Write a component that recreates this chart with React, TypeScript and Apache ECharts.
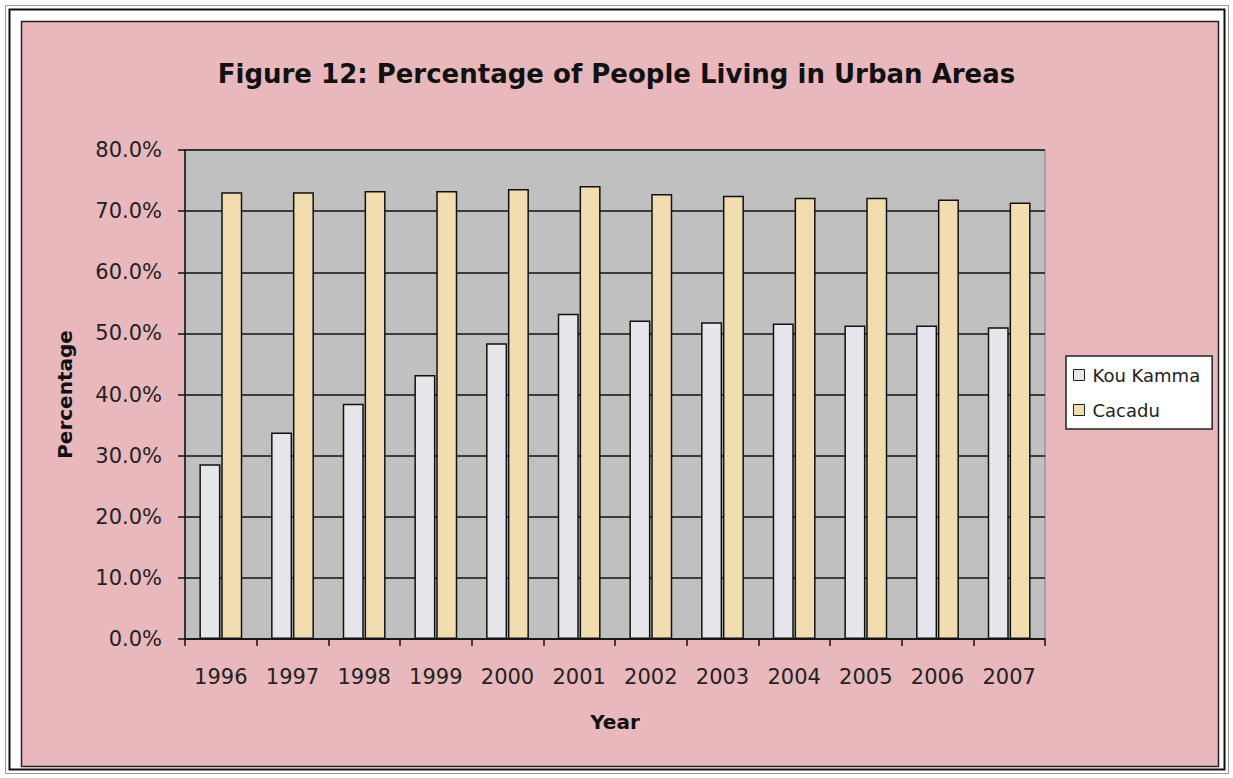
import React, { useEffect, useRef } from "react";
import * as echarts from "echarts";

const years = ["1996", "1997", "1998", "1999", "2000", "2001", "2002", "2003", "2004", "2005", "2006", "2007"];
const kouKamma = [28.6, 33.8, 38.5, 43.2, 48.4, 53.2, 52.1, 51.8, 51.6, 51.3, 51.3, 51.0];
const cacadu = [73.1, 73.1, 73.3, 73.3, 73.6, 74.1, 72.8, 72.5, 72.2, 72.2, 71.9, 71.4];
const yTicks = { min: 0, max: 80, interval: 10 };

const W = 1233;
const H = 778;

export default function App() {
  const ref = useRef<HTMLDivElement>(null);
  useEffect(() => {
    if (!ref.current) return;
    const chart = echarts.init(ref.current, undefined, { renderer: "svg" });
    const font = "'DejaVu Sans', 'Liberation Sans', Arial, sans-serif";
    chart.setOption({
      animation: false,
      backgroundColor: "#ffffff",
      graphic: [
        { type: "rect", z: -10, shape: { x: 5.5, y: 5.5, width: W - 10, height: H - 10 }, style: { fill: "none", stroke: "#999", lineWidth: 1 } },
        { type: "rect", z: -10, shape: { x: 9.5, y: 9.5, width: W - 18, height: H - 18 }, style: { fill: "none", stroke: "#111", lineWidth: 2 } },
        { type: "rect", z: -10, shape: { x: 21.5, y: 21.5, width: 1197, height: 745 }, style: { fill: "#e8b8bd", stroke: "#222", lineWidth: 1.5 } },
      ],
      title: {
        text: "Figure 12: Percentage of People Living in Urban Areas",
        left: "center",
        top: 56,
        textStyle: { fontFamily: font, fontSize: 26, fontWeight: "bold", color: "#111" },
      },
      legend: {
        orient: "vertical",
        left: 1066,
        top: 356,
        width: 146,
        padding: [10, 12, 10, 7],
        backgroundColor: "#ffffff",
        borderColor: "#222",
        borderWidth: 1.5,
        itemWidth: 11,
        itemHeight: 11,
        itemGap: 17,
        icon: "rect",
        textStyle: { fontFamily: font, fontSize: 18, color: "#222", padding: [0, 0, 0, 3] },
        data: [
          { name: "Kou Kamma", itemStyle: { color: "#e6e7ec", borderColor: "#222", borderWidth: 1 } },
          { name: "Cacadu", itemStyle: { color: "#f2ddb0", borderColor: "#222", borderWidth: 1 } },
        ],
      },
      grid: { left: 185, right: W - 1045, top: 150, bottom: H - 639, show: true, backgroundColor: "#c0c0c0", borderColor: "#808080", borderWidth: 1 },
      xAxis: {
        type: "category",
        data: years,
        name: "Year",
        nameLocation: "middle",
        nameGap: 73,
        nameTextStyle: { fontFamily: font, fontSize: 20, fontWeight: "bold", color: "#111" },
        axisLine: { lineStyle: { color: "#111", width: 1.5 } },
        axisTick: { show: true, alignWithLabel: false, length: 7, lineStyle: { color: "#111", width: 1.5 } },
        axisLabel: { fontFamily: font, fontSize: 21, color: "#222", margin: 27 },
      },
      yAxis: {
        type: "value",
        min: yTicks.min,
        max: yTicks.max,
        interval: yTicks.interval,
        name: "Percentage",
        nameLocation: "middle",
        nameGap: 110,
        nameRotate: 90,
        nameTextStyle: { fontFamily: font, fontSize: 20, fontWeight: "bold", color: "#111" },
        axisLine: { show: true, lineStyle: { color: "#111", width: 1.5 } },
        axisTick: { show: true, length: 7, lineStyle: { color: "#111", width: 1.5 } },
        axisLabel: { fontFamily: font, fontSize: 21, color: "#222", margin: 23, formatter: (v: number) => v.toFixed(1) + "%" },
        splitLine: { show: true, lineStyle: { color: "#111", width: 1.5 } },
      },
      series: [
        {
          name: "Kou Kamma",
          type: "bar",
          data: kouKamma,
          barWidth: 21,
          barGap: "4%",
          itemStyle: { color: "#e6e7ec", borderColor: "#111", borderWidth: 1.5 },
        },
        {
          name: "Cacadu",
          type: "bar",
          data: cacadu,
          barWidth: 21,
          itemStyle: { color: "#f2ddb0", borderColor: "#111", borderWidth: 1.5 },
        },
      ],
    });
    return () => chart.dispose();
  }, []);
  return <div ref={ref} style={{ position: "absolute", left: 0, top: 0, width: W, height: H }} />;
}
